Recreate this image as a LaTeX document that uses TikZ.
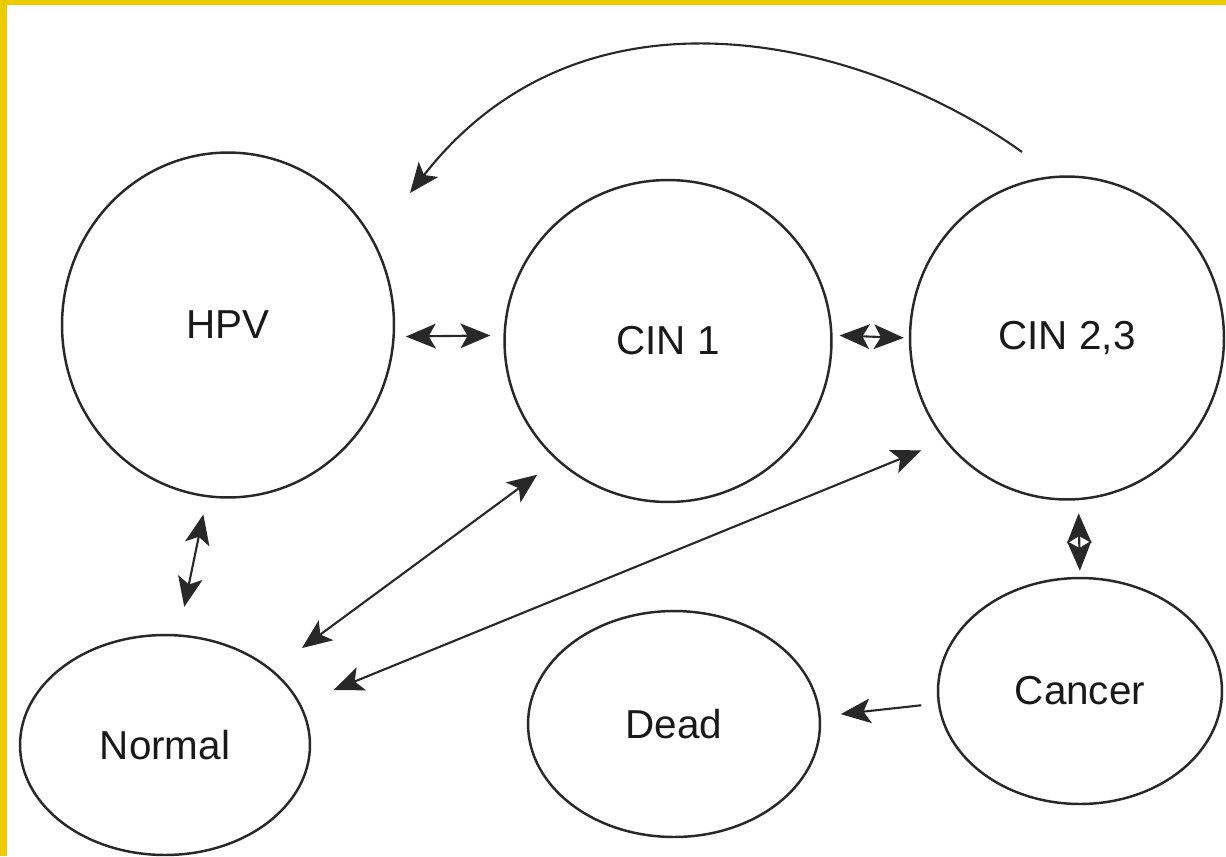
\documentclass[tikz,border=0pt]{standalone}
\usepackage{fontspec}
\setmainfont{Liberation Sans}
\usetikzlibrary{arrows.meta,shapes.geometric}
\definecolor{frame}{RGB}{236,204,0}
\definecolor{ink}{RGB}{40,40,40}

\begin{document}
\begin{tikzpicture}[x=0.02cm, y=-0.02cm,
  >={Stealth[length=17pt,width=14pt,inset=4pt]},
  state/.style={ellipse, draw=ink, line width=1.4pt, inner sep=0pt,
    font=\fontsize{23}{26}\selectfont, text=black!90},
  every path/.append style={line width=1.2pt}]
  \useasboundingbox (0,0) rectangle (1226,856);
  % Yellow frame
  \fill[frame] (0,0) rectangle (1226,856);
  \fill[white] (7,5) rectangle (1226,856);
  % States
  \node[state, minimum width=6.64cm, minimum height=6.90cm] (hpv) at (228,325) {HPV};
  \node[state, minimum width=6.54cm, minimum height=6.44cm] (cin1) at (668,341) {CIN 1};
  \node[state, minimum width=6.28cm, minimum height=6.46cm] (cin23) at (1067,338) {CIN 2,3};
  \node[state, minimum width=5.80cm, minimum height=4.40cm] (normal) at (165,745) {Normal};
  \node[state, minimum width=5.84cm, minimum height=4.52cm] (dead) at (674,724) {Dead};
  \node[state, minimum width=5.68cm, minimum height=4.52cm] (cancer) at (1080,691) {Cancer};
  % Transitions
  \draw[ink, <->, shorten <=0.22cm, shorten >=0.26cm] (hpv.-4) -- (cin1.178);
  \draw[ink, <->, shorten <=0.14cm, shorten >=0.10cm] (cin1.2) -- (cin23.180);
  \draw[ink, <->, shorten <=0.26cm, shorten >=0.12cm] (cin23.-86) -- (cancer.90);
  \draw[ink, <->, shorten <=0.35cm, shorten >=0.56cm] (hpv.-97) -- (normal.83);
  \draw[ink, <->, shorten <=0.73cm, shorten >=0.48cm] (normal.35) -- (cin1.227);
  \draw[ink, <->, shorten <=0.71cm, shorten >=0.50cm] (normal.17) -- (cin23.220);
  \draw[ink, ->, shorten <=0.33cm, shorten >=0.40cm] (cancer.185) -- (dead.3);
  % Return arc
  \coordinate (relapse-from) at ([shift={(-45,-186)}]cin23.center);
  \coordinate (relapse-to) at ([shift={(182,-132)}]hpv.center);
  \draw[ink, ->] (relapse-from) .. controls +(-150,-108) and +(178,-228) .. (relapse-to);
\end{tikzpicture}
\end{document}
